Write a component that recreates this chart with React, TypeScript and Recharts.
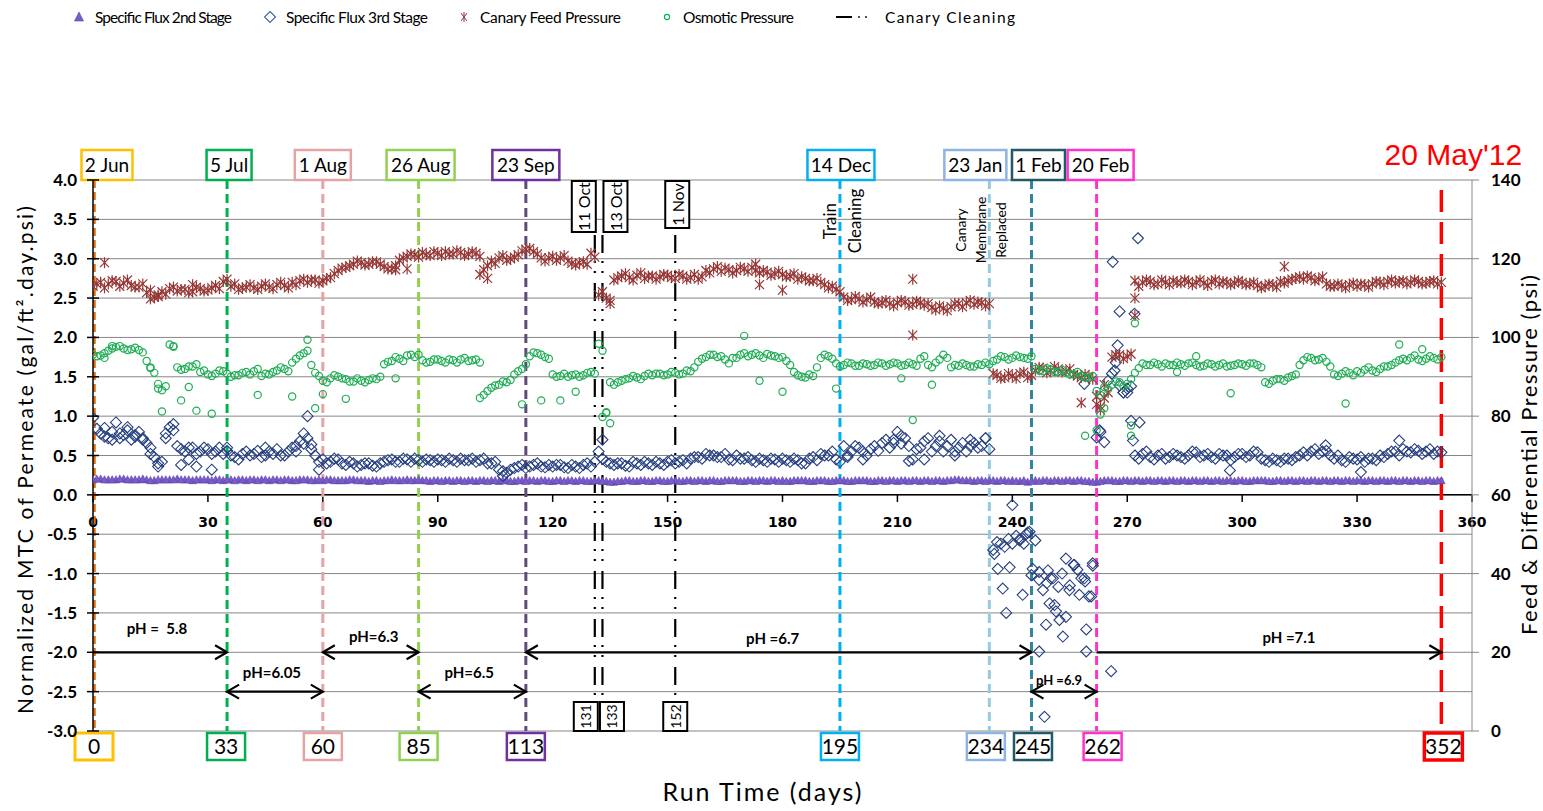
import React from 'react';
import { ComposedChart, Scatter, XAxis, YAxis, CartesianGrid, ReferenceLine } from 'recharts';

const FONT = 'Lato, "Open Sans", sans-serif';

// run days, even readings
const days = [
  0, 2, 4, 6, 8, 10, 12, 14, 16, 18, 20, 22, 24, 26, 28,
  30, 32, 34, 36, 38, 40, 42, 44, 46, 48, 50, 52, 54, 56, 58,
  60, 62, 64, 66, 68, 70, 72, 74, 76, 78, 80, 82, 84, 86, 88,
  90, 92, 94, 96, 98, 100, 102, 104, 106, 108, 110, 112, 114, 116, 118,
  120, 122, 124, 126, 128, 130, 132, 134, 136, 138, 140, 142, 144, 146, 148,
  150, 152, 154, 156, 158, 160, 162, 164, 166, 168, 170, 172, 174, 176, 178,
  180, 182, 184, 186, 188, 190, 192, 194, 196, 198, 200, 202, 204, 206, 208,
  210, 212, 214, 216, 218, 220, 222, 224, 226, 228, 230, 232, 234, 236, 238,
  240, 242, 244, 246, 248, 250, 252, 254, 256, 258, 260, 262, 264, 266, 268,
  270, 272, 274, 276, 278, 280, 282, 284, 286, 288, 290, 292, 294, 296, 298,
  300, 302, 304, 306, 308, 310, 312, 314, 316, 318, 320, 322, 324, 326, 328,
  330, 332, 334, 336, 338, 340, 342, 344, 346, 348, 350, 352,
];

// run days, odd readings
const oddDays = [
  1, 3, 5, 7, 9, 11, 13, 15, 17, 19, 21, 23, 25, 27, 29,
  31, 33, 35, 37, 39, 41, 43, 45, 47, 49, 51, 53, 55, 57, 59,
  61, 63, 65, 67, 69, 71, 73, 75, 77, 79, 81, 83, 85, 87, 89,
  91, 93, 95, 97, 99, 101, 103, 105, 107, 109, 111, 113, 115, 117, 119,
  121, 123, 125, 127, 129, 131, 133, 135, 137, 139, 141, 143, 145, 147, 149,
  151, 153, 155, 157, 159, 161, 163, 165, 167, 169, 171, 173, 175, 177, 179,
  181, 183, 185, 187, 189, 191, 193, 195, 197, 199, 201, 203, 205, 207, 209,
  211, 213, 215, 217, 219, 221, 223, 225, 227, 229, 231, 233, 235, 237, 239,
  241, 243, 245, 247, 249, 251, 253, 255, 257, 259, 261, 263, 265, 267, 269,
  271, 273, 275, 277, 279, 281, 283, 285, 287, 289, 291, 293, 295, 297, 299,
  301, 303, 305, 307, 309, 311, 313, 315, 317, 319, 321, 323, 325, 327, 329,
  331, 333, 335, 337, 339, 341, 343, 345, 347, 349, 351,
];

// gal/ft2.day.psi (left axis)
const flux2nd = [
  0.19, 0.2, 0.19, 0.19, 0.2, 0.19, 0.19, 0.19, 0.18, 0.19, 0.19, 0.2, 0.19, 0.18, 0.19,
  0.19, 0.19, 0.18, 0.19, 0.19, 0.18, 0.19, 0.19, 0.18, 0.19, 0.19, 0.18, 0.19, 0.19, 0.18,
  0.18, 0.19, 0.18, 0.18, 0.19, 0.18, 0.17, 0.18, 0.18, 0.19, 0.18, 0.19, 0.18, 0.18, 0.17,
  0.18, 0.18, 0.17, 0.18, 0.18, 0.17, 0.18, 0.18, 0.17, 0.18, 0.17, 0.18, 0.18, 0.17, 0.18,
  0.17, 0.18, 0.18, 0.17, 0.18, 0.17, 0.18, 0.17, 0.16, 0.17, 0.18, 0.17, 0.18, 0.17, 0.18,
  0.17, 0.18, 0.17, 0.18, 0.18, 0.17, 0.18, 0.17, 0.18, 0.18, 0.17, 0.18, 0.18, 0.17, 0.18,
  0.18, 0.17, 0.18, 0.18, 0.17, 0.18, 0.17, 0.18, 0.18, 0.17, 0.18, 0.18, 0.17, 0.18, 0.18,
  0.17, 0.18, 0.18, 0.17, 0.18, 0.18, 0.17, 0.18, 0.19, 0.18, 0.17, 0.18, 0.18, 0.17, 0.18,
  0.18, 0.17, 0.16, 0.18, 0.18, 0.17, 0.18, 0.18, 0.17, 0.18, 0.17, 0.16, 0.18, 0.18, 0.17,
  0.18, 0.18, 0.17, 0.18, 0.18, 0.17, 0.18, 0.18, 0.17, 0.18, 0.18, 0.17, 0.18, 0.18, 0.17,
  0.18, 0.17, 0.18, 0.18, 0.17, 0.18, 0.18, 0.17, 0.18, 0.18, 0.17, 0.18, 0.18, 0.17, 0.18,
  0.18, 0.17, 0.18, 0.18, 0.17, 0.18, 0.18, 0.17, 0.18, 0.18, 0.17, 0.18,
];
const flux2ndOdd = [
  0.2, 0.19, 0.19, 0.2, 0.19, 0.19, 0.2, 0.18, 0.19, 0.19, 0.19, 0.19, 0.19, 0.19, 0.19,
  0.18, 0.19, 0.19, 0.18, 0.19, 0.19, 0.18, 0.19, 0.19, 0.18, 0.19, 0.18, 0.19, 0.18, 0.19,
  0.19, 0.18, 0.18, 0.19, 0.18, 0.18, 0.18, 0.17, 0.18, 0.18, 0.18, 0.18, 0.19, 0.18, 0.18,
  0.17, 0.18, 0.18, 0.17, 0.18, 0.18, 0.17, 0.18, 0.18, 0.17, 0.18, 0.17, 0.18, 0.18, 0.17,
  0.18, 0.17, 0.18, 0.18, 0.17, 0.18, 0.17, 0.16, 0.17, 0.18, 0.17, 0.18, 0.17, 0.18, 0.17,
  0.18, 0.17, 0.18, 0.17, 0.18, 0.18, 0.17, 0.18, 0.18, 0.17, 0.18, 0.17, 0.18, 0.18, 0.17,
  0.17, 0.18, 0.18, 0.17, 0.18, 0.18, 0.17, 0.18, 0.17, 0.18, 0.18, 0.17, 0.18, 0.17, 0.18,
  0.18, 0.17, 0.18, 0.18, 0.17, 0.18, 0.18, 0.19, 0.18, 0.18, 0.18, 0.17, 0.18, 0.18, 0.17,
  0.17, 0.18, 0.17, 0.17, 0.18, 0.18, 0.17, 0.18, 0.18, 0.17, 0.16, 0.17, 0.18, 0.17, 0.18,
  0.17, 0.18, 0.18, 0.17, 0.18, 0.18, 0.17, 0.18, 0.18, 0.17, 0.18, 0.18, 0.17, 0.18, 0.18,
  0.17, 0.18, 0.18, 0.17, 0.18, 0.17, 0.18, 0.18, 0.17, 0.18, 0.18, 0.17, 0.18, 0.18, 0.17,
  0.18, 0.18, 0.17, 0.18, 0.18, 0.17, 0.18, 0.18, 0.17, 0.18, 0.18,
];

const flux3rd = [
  0.98, 0.78, 0.72, 0.92, 0.76, 0.7, 0.8, 0.66, 0.48, 0.42, 0.86, 0.62, 0.55, 0.6, 0.55,
  0.58, 0.55, 0.52, 0.5, 0.45, 0.55, 0.52, 0.48, 0.55, 0.58, 0.5, 0.6, 0.68, 0.72, 0.5,
  0.45, 0.42, 0.45, 0.38, 0.4, 0.38, 0.4, 0.36, 0.42, 0.45, 0.42, 0.45, 0.46, 0.42, 0.44,
  0.45, 0.42, 0.44, 0.46, 0.44, 0.42, 0.46, 0.4, 0.32, 0.28, 0.34, 0.38, 0.36, 0.4, 0.35,
  0.36, 0.38, 0.34, 0.36, 0.38, 0.36, 0.55, 0.42, 0.38, 0.4, 0.36, 0.4, 0.42, 0.38, 0.4,
  0.42, 0.4, 0.44, 0.46, 0.48, 0.52, 0.5, 0.48, 0.45, 0.5, 0.46, 0.44, 0.46, 0.42, 0.45,
  0.46, 0.42, 0.44, 0.4, 0.48, 0.52, 0.5, 0.45, 0.62, 0.55, 0.6, 0.5, 0.62, 0.66, 0.6,
  0.8, 0.72, 0.45, 0.6, 0.72, 0.62, 0.55, 0.7, 0.6, 0.55, 0.66, 0.62, 0.58, -0.6, -0.66,
  -0.62, -0.56, -0.48, -0.58, -1.21, -1.06, -1.17, -0.81, -0.89, -1.06, -1.29, 0.73, 0.67, 1.54, 1.39,
  1.3, 0.5, 0.52, 0.48, 0.5, 0.46, 0.52, 0.48, 0.5, 0.54, 0.5, 0.48, 0.52, 0.5, 0.48,
  0.52, 0.5, 0.54, 0.44, 0.46, 0.42, 0.46, 0.48, 0.54, 0.55, 0.52, 0.56, 0.46, 0.44, 0.48,
  0.45, 0.42, 0.46, 0.5, 0.52, 0.55, 0.58, 0.54, 0.56, 0.55, 0.52, 0.54,
];
const flux3rdOdd = [
  0.84, 0.74, 0.8, 0.72, 0.86, 0.76, 0.72, 0.6, 0.4, 0.78, 0.82, 0.58, 0.6, 0.52, 0.6,
  0.52, 0.6, 0.56, 0.48, 0.52, 0.5, 0.56, 0.5, 0.52, 0.5, 0.55, 0.62, 0.65, 0.58, 0.42,
  0.4, 0.46, 0.4, 0.42, 0.36, 0.4, 0.37, 0.4, 0.44, 0.42, 0.46, 0.42, 0.44, 0.45, 0.42,
  0.44, 0.46, 0.42, 0.44, 0.46, 0.44, 0.4, 0.42, 0.3, 0.32, 0.36, 0.34, 0.38, 0.36, 0.38,
  0.38, 0.35, 0.38, 0.34, 0.4, 0.42, 0.46, 0.4, 0.4, 0.37, 0.42, 0.38, 0.4, 0.42, 0.38,
  0.44, 0.42, 0.4, 0.48, 0.46, 0.5, 0.48, 0.52, 0.44, 0.46, 0.48, 0.42, 0.44, 0.46, 0.42,
  0.44, 0.46, 0.4, 0.46, 0.44, 0.5, 0.55, 0.42, 0.5, 0.62, 0.55, 0.58, 0.56, 0.7, 0.66,
  0.65, 0.62, 0.58, 0.68, 0.55, 0.68, 0.62, 0.5, 0.66, 0.62, 0.6, 0.72, -0.7, -0.62, -0.56,
  -0.52, -0.62, -1.02, -0.98, -1.12, -1.4, -1.0, -1.15, -0.95, -1.1, -0.9, 0.8, 1.45, 1.68, 1.3,
  1.38, 0.46, 0.55, 0.45, 0.52, 0.48, 0.5, 0.46, 0.55, 0.48, 0.52, 0.46, 0.5, 0.44, 0.52,
  0.48, 0.55, 0.46, 0.42, 0.44, 0.46, 0.44, 0.5, 0.5, 0.58, 0.55, 0.5, 0.5, 0.42, 0.46,
  0.48, 0.46, 0.44, 0.48, 0.55, 0.5, 0.55, 0.58, 0.52, 0.58, 0.55,
];

// psi (right axis)
const feedPressure = [
  113.0, 114.0, 113.6, 114.2, 113.8, 113.2, 112.8, 111.4, 110.2, 111.6, 112.4, 111.8, 112.2, 111.6, 112.4,
  112.0, 113.2, 114.2, 113.0, 112.2, 112.8, 112.6, 113.0, 112.8, 113.4, 113.2, 114.0, 114.4, 114.0, 114.6,
  114.4, 115.2, 117.0, 117.8, 118.6, 119.0, 118.6, 119.2, 118.0, 117.4, 119.6, 120.6, 121.0, 121.6, 120.8,
  121.4, 121.8, 121.2, 121.6, 121.2, 121.4, 117.2, 119.4, 120.2, 119.6, 120.4, 122.0, 122.6, 121.2, 119.4,
  120.6, 120.2, 119.4, 118.4, 119.2, 121.4, 110.8, 110.0, 114.6, 115.6, 115.2, 115.8, 115.0, 115.6, 115.4,
  115.8, 115.0, 115.6, 115.2, 114.8, 117.0, 117.4, 116.8, 117.2, 117.0, 117.4, 117.8, 116.4, 116.6, 116.2,
  116.0, 115.6, 114.8, 115.0, 114.4, 114.0, 112.6, 112.2, 110.2, 109.6, 109.8, 109.6, 109.0, 108.8, 108.6,
  108.8, 109.0, 108.4, 108.8, 108.6, 107.0, 107.4, 107.8, 108.6, 108.8, 108.4, 108.8, 108.6, 90.4, 89.8,
  90.2, 90.8, 89.8, 91.6, 92.2, 91.6, 92.0, 91.4, 90.6, 89.8, 90.0, 83.0, 84.6, 95.0, 95.6,
  95.2, 114.4, 114.0, 114.2, 113.6, 114.0, 114.4, 113.8, 114.2, 114.0, 113.8, 114.2, 113.6, 114.0, 113.8,
  114.0, 113.6, 113.2, 113.0, 113.4, 114.2, 114.4, 115.0, 114.8, 115.2, 114.8, 113.6, 113.0, 113.2, 113.4,
  113.0, 113.4, 113.6, 114.0, 114.2, 113.8, 114.4, 114.0, 114.2, 113.8, 114.4, 114.0,
];
const feedPressureOdd = [
  113.6, 112.6, 114.4, 113.0, 114.6, 112.8, 113.6, 112.0, 110.8, 111.0, 112.8, 112.2, 111.4, 112.8, 111.8,
  112.6, 112.4, 114.8, 113.6, 112.6, 113.4, 112.2, 113.6, 112.4, 114.0, 112.6, 113.4, 114.8, 114.6, 113.8,
  115.0, 116.2, 117.6, 118.2, 119.4, 118.4, 119.2, 118.6, 117.4, 118.2, 120.2, 121.2, 120.4, 121.0, 121.8,
  120.8, 121.2, 122.0, 120.8, 121.8, 120.6, 118.2, 118.8, 120.8, 120.0, 121.0, 122.4, 121.8, 120.2, 120.2,
  119.6, 120.8, 118.8, 119.0, 118.6, 120.4, 111.6, 109.4, 115.2, 116.2, 114.6, 116.4, 115.6, 114.8, 116.0,
  115.2, 116.0, 114.8, 116.0, 115.4, 116.4, 118.0, 117.6, 116.4, 117.8, 116.8, 117.0, 117.0, 115.8, 116.8,
  115.4, 116.2, 115.4, 114.4, 115.0, 113.4, 113.0, 111.6, 109.4, 110.4, 109.0, 110.2, 108.6, 109.4, 108.0,
  109.4, 108.2, 109.2, 108.2, 107.6, 108.0, 106.8, 108.6, 107.8, 109.4, 109.0, 108.0, 90.8, 89.6, 90.8,
  89.6, 91.2, 90.4, 92.4, 91.0, 92.6, 91.2, 92.0, 90.2, 90.6, 89.4, 82.4, 86.0, 95.6, 94.6,
  95.8, 113.0, 114.6, 113.4, 114.6, 113.4, 114.0, 114.6, 113.4, 114.6, 113.2, 114.6, 114.2, 113.4, 114.4,
  113.4, 114.0, 112.6, 113.6, 112.8, 113.8, 114.8, 115.4, 115.6, 114.4, 115.4, 113.0, 113.6, 112.6, 113.8,
  113.6, 112.8, 114.2, 113.4, 114.6, 114.2, 113.6, 114.6, 113.6, 114.2, 113.6,
];

const osmoticPressure = [
  95.6, 95.4, 96.6, 97.6, 97.2, 97.0, 96.8, 94.0, 91.0, 86.6, 98.2, 92.4, 92.0, 92.6, 91.2,
  90.6, 90.8, 91.4, 90.0, 90.4, 91.2, 91.4, 90.2, 90.6, 91.6, 92.0, 93.6, 95.4, 96.6, 91.0,
  89.0, 89.6, 90.0, 89.4, 88.8, 89.0, 89.2, 89.4, 93.2, 94.0, 94.6, 95.4, 95.0, 94.2, 93.8,
  94.4, 93.6, 94.2, 94.4, 94.0, 94.4, 85.4, 87.2, 88.0, 88.6, 90.6, 92.0, 95.2, 96.0, 95.0,
  90.6, 90.2, 90.0, 90.6, 90.4, 91.2, 98.4, 80.8, 88.0, 89.0, 89.6, 89.8, 90.2, 90.4, 90.8,
  90.6, 91.0, 90.8, 91.4, 93.8, 95.0, 95.6, 95.2, 93.4, 94.8, 96.0, 95.6, 95.4, 95.8, 95.2,
  95.0, 93.0, 90.4, 89.8, 90.2, 94.8, 95.2, 93.4, 93.0, 93.4, 92.8, 93.2, 93.0, 93.4, 93.2,
  93.4, 93.0, 93.2, 94.6, 93.0, 93.6, 95.6, 92.4, 92.8, 93.0, 92.6, 93.0, 93.2, 94.4, 95.0,
  94.8, 95.0, 94.6, 92.0, 91.4, 91.8, 91.2, 91.0, 90.6, 90.2, 89.8, 86.4, 87.4, 88.0, 88.6,
  88.2, 91.0, 93.4, 93.0, 93.2, 93.4, 93.0, 93.2, 93.4, 93.0, 92.8, 93.2, 93.0, 92.6, 93.0,
  93.2, 93.4, 93.0, 88.6, 89.0, 89.4, 89.8, 90.6, 94.2, 94.8, 94.4, 93.8, 90.6, 90.8, 91.0,
  91.4, 91.8, 91.6, 92.0, 92.6, 93.6, 94.6, 94.8, 94.4, 94.6, 94.8, 95.0,
];
const osmoticPressureOdd = [
  95.2, 96.0, 97.2, 97.8, 96.8, 97.4, 96.2, 92.4, 88.2, 87.6, 97.8, 91.8, 92.6, 93.2, 91.6,
  90.2, 91.6, 90.8, 90.4, 91.0, 90.6, 92.0, 90.8, 91.2, 92.4, 91.4, 94.6, 96.0, 93.0, 90.2,
  88.6, 90.4, 89.6, 88.8, 89.6, 88.6, 89.6, 90.0, 93.8, 95.0, 94.0, 95.6, 95.6, 93.6, 94.4,
  94.0, 94.4, 93.6, 94.8, 94.2, 93.6, 86.4, 87.8, 88.8, 89.2, 91.4, 93.2, 96.2, 95.6, 94.6,
  90.0, 90.8, 90.4, 90.0, 91.0, 90.8, 96.6, 88.6, 88.6, 89.4, 90.2, 89.4, 90.8, 90.8, 90.4,
  91.2, 90.6, 91.6, 92.4, 94.6, 95.6, 95.0, 94.4, 94.8, 95.6, 95.2, 96.0, 94.8, 95.4, 94.8,
  94.0, 91.2, 90.0, 90.6, 92.4, 95.6, 94.6, 92.6, 93.6, 92.8, 93.4, 92.8, 93.6, 92.8, 93.6,
  92.8, 93.6, 92.8, 95.2, 92.4, 94.4, 94.8, 93.0, 93.4, 92.6, 93.2, 93.6, 94.0, 95.2, 94.4,
  95.4, 94.8, 95.2, 91.6, 92.2, 91.2, 91.8, 90.6, 91.2, 89.8, 90.2, 85.4, 86.8, 88.8, 87.6,
  89.4, 92.2, 93.0, 93.6, 92.6, 93.0, 93.6, 92.8, 93.6, 92.6, 93.4, 92.6, 93.4, 92.8, 93.4,
  92.8, 93.4, 92.4, 88.2, 89.4, 89.0, 90.2, 93.0, 95.0, 94.2, 94.8, 92.6, 90.2, 91.4, 90.4,
  91.0, 92.4, 91.2, 92.6, 93.0, 94.2, 94.2, 95.4, 94.0, 95.2, 94.4,
];

// readings off the regular grid (scatter and outliers)
const flux3rdExtraDays = [
  3, 5, 7, 9, 11, 13, 15, 17, 19, 21, 23, 25, 27, 31, 35, 45, 53, 55, 56, 57,
  59, 107, 133, 197, 201, 209, 211, 213, 217, 221, 225, 229, 233,
  235.3, 236.2, 237.5, 238.4, 239.3, 240, 241.9, 242.7, 243.6, 244.5, 245.3, 247, 247, 248.4, 248.8, 249.3, 249.7,
  250.6, 251.4, 252.3, 253.2, 254, 254.9, 256.2, 257.5, 258.8, 259.3, 259.3, 260.6, 261, 265.8,
  266.2, 272.8, 268, 271.9, 267.5, 266.7, 258.8, 269, 270, 271, 271.5, 273.2, 262.8,
  296.8, 321.8, 331, 341,
];
const flux3rdExtraVals = [
  0.85, 0.7, 0.78, 0.82, 0.74, 0.7, 0.52, 0.36, 0.72, 0.9, 0.38, 0.45, 0.36, 0.32, 0.6, 0.6, 0.55, 0.78, 1.0, 0.64,
  0.32, 0.24, 0.7, 0.48, 0.45, 0.7, 0.75, 0.43, 0.45, 0.75, 0.55, 0.7, 0.72,
  -0.75, -0.94, -1.19, -1.5, -0.92, -0.13, -0.58, -1.27, -0.5, -0.47, -0.94, -1.08, -1.99, -2.82, -1.65, -0.96, -1.38,
  -1.06, -1.48, -1.59, -1.8, -1.55, -1.21, -0.89, -1.27, -1.06, -1.71, -1.99, -1.29, -0.87, -2.24,
  2.96, 3.26, 2.33, 2.3, 1.9, 1.58, 1.41, 1.3, 1.35, 0.94, 0.69, 0.92, 0.82,
  0.31, 0.63, 0.29, 0.69,
];

const feedExtraDays = [3, 15, 17, 26, 79, 82, 101, 103, 135, 173, 174, 180, 214, 214, 258, 262, 263, 264, 272, 272, 311];
const feedExtraVals = [119.0, 109.8, 110.4, 113.4, 117.2, 117.4, 116.0, 115.0, 108.6, 118.6, 113.4, 112.0, 114.8, 100.6, 83.4, 85.0, 81.6, 88.0, 105.6, 110.0, 118.0];

const osmoticExtraDays = [
  3, 5, 15, 17, 18, 21, 23, 25, 27, 31, 43, 52, 56, 58, 60, 66, 79, 101, 112, 117,
  122, 126, 133, 134, 135, 170, 174, 180, 194, 211, 214, 219, 259, 262, 263, 264, 271, 271, 272, 283,
  288, 297, 327, 341, 347,
];
const osmoticExtraVals = [
  94.8, 97.8, 92.2, 87.0, 81.2, 97.6, 84.0, 87.4, 81.4, 80.6, 85.4, 85.0, 99.4, 82.0, 85.6, 84.4, 89.6, 84.6, 83.0, 84.0,
  84.0, 86.2, 79.8, 81.0, 78.2, 100.4, 89.0, 86.2, 87.0, 89.6, 79.0, 88.0, 75.0, 76.4, 80.4, 82.0, 77.6, 75.0, 103.6, 91.2,
  95.2, 85.8, 83.2, 98.2, 97.0,
];

const xTicks = [0, 30, 60, 90, 120, 150, 180, 210, 240, 270, 300, 330, 360];
const leftTicks = [-3, -2.5, -2, -1.5, -1, -0.5, 0, 0.5, 1, 1.5, 2, 2.5, 3, 3.5, 4];
const rightTicks = [0, 20, 40, 60, 80, 100, 120, 140];

// operating events (dashed verticals)
const eventDays = [0, 35, 60, 85, 113, 195, 234, 245, 262, 352];
const eventDates = ['2 Jun', '5 Jul', '1 Aug', '26 Aug', '23 Sep', '14 Dec', '23 Jan', '1 Feb', '20 Feb', "20 May'12"];
const eventRunDays = ['0', '33', '60', '85', '113', '195', '234', '245', '262', '352'];
const eventNotes = [[], [], [], [], [], ['Train', 'Cleaning'], ['Canary', 'Membrane', 'Replaced'], [], [], []];

const cleaningDays = [131, 133, 152];
const cleaningDates = ['11 Oct', '13 Oct', '1 Nov'];

const phFrom = [0, 35, 60, 85, 113, 245, 262];
const phTo = [35, 60, 85, 113, 245, 262, 352];
const phLevel = [-2, -2.5, -2, -2.5, -2, -2.5, -2];
const phLabels = ['pH =  5.8', 'pH=6.05', 'pH=6.3', 'pH=6.5', 'pH =6.7', 'pH =6.9', 'pH =7.1'];
const phBothEnds = [false, true, true, true, true, true, false];

const toPoints = (xs: number[], ys: number[]) => xs.map((x, i) => ({ x, y: ys[i] }));

const flux2Pts = [...toPoints(days, flux2nd), ...toPoints(oddDays, flux2ndOdd)];
const flux3Pts = [...toPoints(days, flux3rd), ...toPoints(oddDays, flux3rdOdd), ...toPoints(flux3rdExtraDays, flux3rdExtraVals)];
const feedPts = [...toPoints(days, feedPressure), ...toPoints(oddDays, feedPressureOdd), ...toPoints(feedExtraDays, feedExtraVals)];
const osmoticPts = [
  ...toPoints(days, osmoticPressure),
  ...toPoints(oddDays, osmoticPressureOdd),
  ...toPoints(osmoticExtraDays, osmoticExtraVals),
];

const eventStyle = [
  { line: '#e46c0a', box: '#ffc000', dash: '8 4', w: 2.5, shift: 1.5, topDx: 14, topW: 51, botDx: 1, boxW: 3 },
  { line: '#00b050', box: '#00b050', dash: '9 5', w: 3, shift: 0, topDx: 2, topW: 45, botDx: -1, boxW: 2.5 },
  { line: '#e6a3a3', box: '#e6a3a3', dash: '9 5', w: 3, shift: 0, topDx: 0, topW: 56, botDx: 0, boxW: 2.5 },
  { line: '#92d050', box: '#92d050', dash: '9 5', w: 3, shift: 0, topDx: 2, topW: 68, botDx: 0, boxW: 2.5 },
  { line: '#604a7b', box: '#7030a0', dash: '9 5', w: 3, shift: 0, topDx: 0, topW: 67, botDx: 0, boxW: 2.5 },
  { line: '#00b0f0', box: '#00b0f0', dash: '9 5', w: 3, shift: 0, topDx: 1, topW: 67, botDx: 0, boxW: 2.5 },
  { line: '#93cddd', box: '#8eb4e3', dash: '9 5', w: 3, shift: 0, topDx: -14, topW: 62, botDx: -3.5, boxW: 2.5 },
  { line: '#31859c', box: '#215968', dash: '9 5', w: 3, shift: 0, topDx: 7, topW: 53, botDx: 1.5, boxW: 2.5 },
  { line: '#ff33cc', box: '#ff33cc', dash: '9 5', w: 3, shift: 0, topDx: 4, topW: 66, botDx: 6, boxW: 2.5 },
  { line: '#ff0000', box: '#ff0000', dash: '22 10', w: 3.5, shift: 0, topDx: 12, topW: 0, botDx: 2, boxW: 3.5 },
];
const noteStyle: Record<number, { xs: number[]; cy: number; size: number }> = {
  5: { xs: [-10, 15], cy: 41, size: 17 },
  6: { xs: [-29, -9, 11], cy: 50, size: 14 },
};
const cleaningStyle = [
  { topDx: -11, topH: 51, botDx: -9 },
  { topDx: 13, topH: 51, botDx: 9.5 },
  { topDx: 2, topH: 47, botDx: 0 },
];
const phStyle = [
  { dx: -3, dy: -24, size: 15 },
  { dx: -3, dy: -20, size: 15 },
  { dx: 3, dy: -16, size: 15 },
  { dx: -3, dy: -20, size: 15 },
  { dx: -6, dy: -14, size: 15 },
  { dx: -5, dy: -12, size: 13 },
  { dx: 20, dy: -15, size: 15 },
];

const Triangle = (p: any) => (
  <polygon
    points={`${p.cx},${p.cy - 4.2} ${p.cx - 3.8},${p.cy + 3} ${p.cx + 3.8},${p.cy + 3}`}
    fill="#7a5cc9"
    stroke="#5b3fae"
    strokeWidth={0.6}
  />
);
const Diamond = (p: any) => (
  <polygon
    points={`${p.cx},${p.cy - 5.5} ${p.cx + 5.5},${p.cy} ${p.cx},${p.cy + 5.5} ${p.cx - 5.5},${p.cy}`}
    fill="none"
    stroke="#253f80"
    strokeWidth={1.1}
  />
);
const Asterisk = (p: any) => (
  <g stroke="#953735" strokeWidth={1.2}>
    <line x1={p.cx - 4.5} y1={p.cy - 4.5} x2={p.cx + 4.5} y2={p.cy + 4.5} />
    <line x1={p.cx - 4.5} y1={p.cy + 4.5} x2={p.cx + 4.5} y2={p.cy - 4.5} />
    <line x1={p.cx} y1={p.cy - 5.5} x2={p.cx} y2={p.cy + 5.5} />
  </g>
);
const Ring = (p: any) => <circle cx={p.cx} cy={p.cy} r={3.6} fill="none" stroke="#1fae55" strokeWidth={1.2} />;

const LeftTick = (p: any) => (
  <g>
    <line x1={p.x + 10} x2={p.x + 22} y1={p.y} y2={p.y} stroke="#000" strokeWidth={1.5} />
    <text x={p.x} y={p.y} dy={6} textAnchor="end" fontFamily={FONT} fontWeight="bold" fontSize={17} fill="#000">
      {Number(p.payload.value).toFixed(1)}
    </text>
  </g>
);

const eventShape = (i: number) => (p: any) => {
  const s = eventStyle[i];
  const x = p.x1;
  const top = Math.min(p.y1, p.y2);
  const bot = Math.max(p.y1, p.y2);
  const notes = eventNotes[i];
  const ns = noteStyle[i];
  return (
    <g>
      <line x1={x + s.shift} x2={x + s.shift} y1={i === 9 ? top + 10 : top} y2={bot} stroke={s.line} strokeWidth={s.w} strokeDasharray={s.dash} />
      {i === 9 ? (
        <text x={x + s.topDx} y={top - 15} textAnchor="middle" fontFamily='"Liberation Sans", Arial, sans-serif' fontSize={30} fill="#ff0000">
          {eventDates[i]}
        </text>
      ) : (
        <g>
          <rect x={x + s.topDx - s.topW / 2} y={top - 30} width={s.topW} height={30} fill="#fff" stroke={s.box} strokeWidth={2.5} />
          <text x={x + s.topDx} y={top - 8} textAnchor="middle" fontFamily={FONT} fontSize={19} fill="#000">
            {eventDates[i]}
          </text>
        </g>
      )}
      <rect x={x + s.botDx - 19} y={bot + 2} width={38} height={27} fill="#fff" stroke={s.box} strokeWidth={s.boxW} />
      <text x={x + s.botDx} y={bot + 23} textAnchor="middle" fontFamily={FONT} fontSize={21} fill="#000">
        {eventRunDays[i]}
      </text>
      {ns &&
        notes.map((n, k) => (
          <text
            key={n}
            transform={`translate(${x + ns.xs[k]},${top + ns.cy}) rotate(-90)`}
            textAnchor="middle"
            dominantBaseline="central"
            fontFamily={FONT}
            fontSize={ns.size}
            fill="#000"
          >
            {n}
          </text>
        ))}
    </g>
  );
};

const cleaningShape = (i: number) => (p: any) => {
  const s = cleaningStyle[i];
  const x = p.x1;
  const top = Math.min(p.y1, p.y2);
  const bot = Math.max(p.y1, p.y2);
  return (
    <g>
      <line x1={x} x2={x} y1={top + 55} y2={bot - 30} stroke="#000" strokeWidth={2.2} strokeDasharray="18 8 2 8 2 10" />
      <rect x={x + s.topDx - 12} y={top + 1} width={24} height={s.topH} fill="#fff" stroke="#000" strokeWidth={2} />
      <text
        transform={`translate(${x + s.topDx},${top + 1 + s.topH / 2}) rotate(-90)`}
        textAnchor="middle"
        dominantBaseline="central"
        fontFamily={FONT}
        fontSize={16}
        fill="#000"
      >
        {cleaningDates[i]}
      </text>
      <rect x={x + s.botDx - 12} y={bot - 29} width={24} height={29} fill="#fff" stroke="#000" strokeWidth={2} />
      <text
        transform={`translate(${x + s.botDx},${bot - 14.5}) rotate(-90)`}
        textAnchor="middle"
        dominantBaseline="central"
        fontFamily={FONT}
        fontSize={14}
        fill="#000"
      >
        {cleaningDays[i]}
      </text>
    </g>
  );
};

const arrowShape = (i: number) => (p: any) => {
  const s = phStyle[i];
  const xa = Math.min(p.x1, p.x2);
  const xb = Math.max(p.x1, p.x2);
  const y = p.y1;
  return (
    <g>
      <g stroke="#000" strokeWidth={2.2} fill="none">
        <line x1={xa} x2={xb} y1={y} y2={y} />
        <polyline points={`${xb - 12},${y - 7} ${xb},${y} ${xb - 12},${y + 7}`} />
        {phBothEnds[i] && <polyline points={`${xa + 12},${y - 7} ${xa},${y} ${xa + 12},${y + 7}`} />}
      </g>
      <text
        x={(xa + xb) / 2 + s.dx}
        y={y + s.dy}
        textAnchor="middle"
        dominantBaseline="central"
        fontFamily={FONT}
        fontWeight="bold"
        fontSize={s.size}
        fill="#000"
        style={{ whiteSpace: 'pre' }}
      >
        {phLabels[i]}
      </text>
    </g>
  );
};

const xTickShape = (t: number) => (p: any) => {
  const top = Math.min(p.y1, p.y2);
  return (
    <g>
      <line x1={p.x1} x2={p.x2} y1={p.y1} y2={p.y2} stroke="#000" strokeWidth={1.5} />
      <text x={p.x1} y={top + 32} textAnchor="middle" fontFamily='"DejaVu Sans", sans-serif' fontWeight="bold" fontSize={14} fill="#000">
        {t}
      </text>
    </g>
  );
};

const Legend = () => (
  <g fontFamily={FONT} fontSize={15.5} fill="#000">
    <polygon points="79,12 74.5,21 83.5,21" fill="#7a5cc9" stroke="#5b3fae" strokeWidth={0.6} />
    <text x={95} y={23} textLength={137}>Specific Flux 2nd Stage</text>
    <polygon points="270,11.5 275.5,17 270,22.5 264.5,17" fill="none" stroke="#4a5fa8" strokeWidth={1.1} />
    <text x={286} y={23} textLength={142}>Specific Flux 3rd Stage</text>
    <g stroke="#953735" strokeWidth={1}>
      <line x1={461} y1={13} x2={467} y2={21} />
      <line x1={461} y1={21} x2={467} y2={13} />
      <line x1={464} y1={12} x2={464} y2={22} />
    </g>
    <text x={480} y={23} textLength={141}>Canary Feed Pressure</text>
    <circle cx={667} cy={17} r={2.6} fill="none" stroke="#00b050" strokeWidth={1.1} />
    <text x={683} y={23} textLength={111}>Osmotic Pressure</text>
    <line x1={836} x2={852} y1={17} y2={17} stroke="#000" strokeWidth={2} />
    <circle cx={859} cy={17} r={0.9} fill="#000" />
    <circle cx={866} cy={17} r={0.9} fill="#000" />
    <text x={885} y={23} textLength={130}>Canary Cleaning</text>
  </g>
);

const App: React.FC = () => {
  return (
    <div style={{ position: 'absolute', left: 0, top: 0, width: 1543, height: 811, background: '#fff' }}>
      <ComposedChart width={1543} height={811} margin={{ top: 180, right: 0, bottom: 80, left: 33 }}>
        <CartesianGrid yAxisId="L" vertical={false} stroke="#868686" strokeWidth={1} />
        <XAxis type="number" dataKey="x" domain={[0, 360]} hide allowDataOverflow />
        <YAxis
          yAxisId="L"
          orientation="left"
          dataKey="y"
          type="number"
          domain={[-3, 4]}
          ticks={leftTicks}
          interval={0}
          width={60}
          allowDataOverflow
          axisLine={{ stroke: '#000', strokeWidth: 1.5 }}
          tickLine={false}
          tickSize={6}
          tickMargin={10}
          tick={LeftTick}
        />
        <YAxis
          yAxisId="R"
          orientation="right"
          dataKey="y"
          type="number"
          domain={[0, 140]}
          ticks={rightTicks}
          interval={0}
          width={71}
          allowDataOverflow
          axisLine={{ stroke: '#868686', strokeWidth: 1 }}
          tickLine={{ stroke: '#868686' }}
          tickSize={7}
          tickMargin={12}
          tick={{ fontFamily: FONT, fontWeight: 'bold', fontSize: 17, fill: '#000' }}
        />
        <Scatter name="Specific Flux 2nd Stage" data={flux2Pts} dataKey="y" yAxisId="L" shape={Triangle} isAnimationActive={false} />
        <Scatter name="Specific Flux 3rd Stage" data={flux3Pts} dataKey="y" yAxisId="L" shape={Diamond} isAnimationActive={false} />
        <Scatter name="Canary Feed Pressure" data={feedPts} dataKey="y" yAxisId="R" shape={Asterisk} isAnimationActive={false} />
        <Scatter name="Osmotic Pressure" data={osmoticPts} dataKey="y" yAxisId="R" shape={Ring} isAnimationActive={false} />

        <ReferenceLine yAxisId="L" y={0} stroke="#000" strokeWidth={1.5} />
        {xTicks.map((t) => (
          <ReferenceLine key={`xt${t}`} yAxisId="L" segment={[{ x: t, y: 0 }, { x: t, y: -0.09 }]} shape={xTickShape(t)} />
        ))}
        {cleaningDays.map((d, i) => (
          <ReferenceLine key={`cl${d}`} yAxisId="L" x={d} shape={cleaningShape(i)} />
        ))}
        {eventDays.map((d, i) => (
          <ReferenceLine key={`ev${d}`} yAxisId="L" x={d} shape={eventShape(i)} />
        ))}
        {phFrom.map((f, i) => (
          <ReferenceLine
            key={`ph${i}`}
            yAxisId="L"
            segment={[{ x: f, y: phLevel[i] }, { x: phTo[i], y: phLevel[i] }]}
            shape={arrowShape(i)}
          />
        ))}
      </ComposedChart>
      <svg width={1543} height={811} style={{ position: 'absolute', left: 0, top: 0, pointerEvents: 'none' }}>
        <Legend />
        <text
          transform="translate(24,460) rotate(-90)"
          textAnchor="middle"
          dominantBaseline="central"
          fontFamily={FONT}
          fontSize={21}
          fill="#000"
          textLength={508}
        >
          Normalized MTC of Permeate (gal/ft².day.psi)
        </text>
        <text
          transform="translate(1528,455) rotate(-90)"
          textAnchor="middle"
          dominantBaseline="central"
          fontFamily={FONT}
          fontSize={22}
          fill="#000"
          textLength={360}
        >
          Feed &amp; Differential Pressure (psi)
        </text>
        <text x={762} y={801} textAnchor="middle" fontFamily={FONT} fontSize={25} fill="#000" textLength={199}>
          Run Time (days)
        </text>
      </svg>
    </div>
  );
};

export default App;
